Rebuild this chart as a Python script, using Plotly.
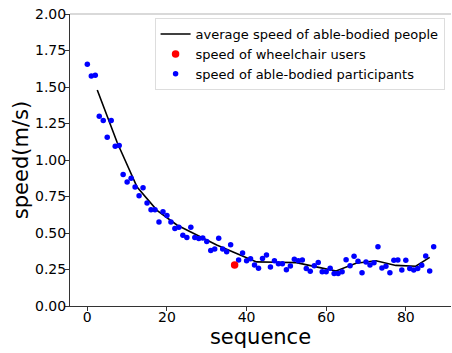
import plotly.graph_objects as go

# blue: able-bodied participants (index 37 is the wheelchair user)
able_x = [i for i in range(88) if i != 37]
able_speed = [
    1.655, 1.575, 1.58, 1.30, 1.27, 1.155, 1.27, 1.095, 1.10, 0.90,
    0.85, 0.875, 0.815, 0.755, 0.81, 0.705, 0.66, 0.66, 0.575, 0.645,
    0.62, 0.575, 0.53, 0.54, 0.485, 0.47, 0.54, 0.47, 0.462, 0.466,
    0.442, 0.38, 0.39, 0.464, 0.39, 0.372, 0.42,
    0.315, 0.363, 0.31, 0.324, 0.281, 0.258, 0.326, 0.349, 0.267, 0.31,
    0.29, 0.29, 0.249, 0.274, 0.32, 0.31, 0.315, 0.256, 0.238, 0.276,
    0.298, 0.235, 0.235, 0.258, 0.222, 0.222, 0.235, 0.317, 0.276, 0.34,
    0.306, 0.228, 0.301, 0.281, 0.297, 0.406, 0.26, 0.272, 0.228, 0.313,
    0.315, 0.247, 0.313, 0.256, 0.247, 0.256, 0.279, 0.342, 0.24, 0.406,
]

wheel_x = [37]
wheel_speed = [0.28]

avg_x = [2.5, 7.5, 12.5, 17.5, 22.5, 27.5, 32.5, 37.5, 42.5, 47.5,
         52.5, 57.5, 62.5, 67.5, 72.5, 77.5, 82.5, 86]
avg_speed = [1.48, 1.12, 0.815, 0.655, 0.555, 0.485, 0.418, 0.36, 0.302, 0.300,
             0.297, 0.268, 0.240, 0.293, 0.31, 0.278, 0.272, 0.333]

x_ticks = [0, 20, 40, 60, 80]
y_ticks = [0, 0.25, 0.5, 0.75, 1.0, 1.25, 1.5, 1.75, 2.0]

FONT = "DejaVu Sans"

fig = go.Figure()
fig.add_trace(go.Scatter(
    x=avg_x, y=avg_speed, mode="lines",
    line=dict(color="black", width=1.6),
    name="average speed of able-bodied people", legendrank=1,
))
fig.add_trace(go.Scatter(
    x=able_x, y=able_speed, mode="markers",
    marker=dict(color="#0000ff", size=5.5, line=dict(width=0)),
    name="speed of able-bodied participants", legendrank=3,
))
fig.add_trace(go.Scatter(
    x=wheel_x, y=wheel_speed, mode="markers",
    marker=dict(color="#ff0000", size=7.5, line=dict(width=0)),
    name="speed of wheelchair users", legendrank=2,
))

axis_common = dict(
    showgrid=False, zeroline=False, showline=True, linecolor="#333333",
    linewidth=1, ticks="outside", ticklen=4, tickcolor="#333333",
    tickfont=dict(family=FONT, size=14, color="black"),
    automargin=False, ticklabeloverflow="allow",
)

fig.update_layout(
    width=452, height=353,
    margin=dict(l=70, r=1, t=14, b=47),
    paper_bgcolor="white", plot_bgcolor="white",
    font=dict(family=FONT, color="black"),
    xaxis=dict(range=[-4.35, 91.35], tickvals=x_ticks, ticklabelstandoff=-6,
               title=dict(text="sequence", font=dict(family=FONT, size=21), standoff=5),
               **axis_common),
    yaxis=dict(range=[0, 2.0], tickvals=y_ticks, tickformat=".2f", ticklabelstandoff=-4,
               title=dict(text="speed(m/s)", font=dict(family=FONT, size=21), standoff=0),
               **axis_common),
    legend=dict(x=0.222, xanchor="left", y=0.986, yanchor="top",
                bgcolor="white", bordercolor="#dddddd", borderwidth=1,
                font=dict(family=FONT, size=13, color="black"),
                tracegroupgap=0, itemsizing="trace"),
    showlegend=True,
    shapes=[dict(type="line", xref="paper", yref="paper", x0=0, x1=1, y0=1, y1=1,
                 line=dict(color="#cccccc", width=1.5))],
)

fig.write_html("out.html",
               config={"displayModeBar": False},
               post_script="document.body.style.margin='0';document.body.style.overflow='hidden';")
